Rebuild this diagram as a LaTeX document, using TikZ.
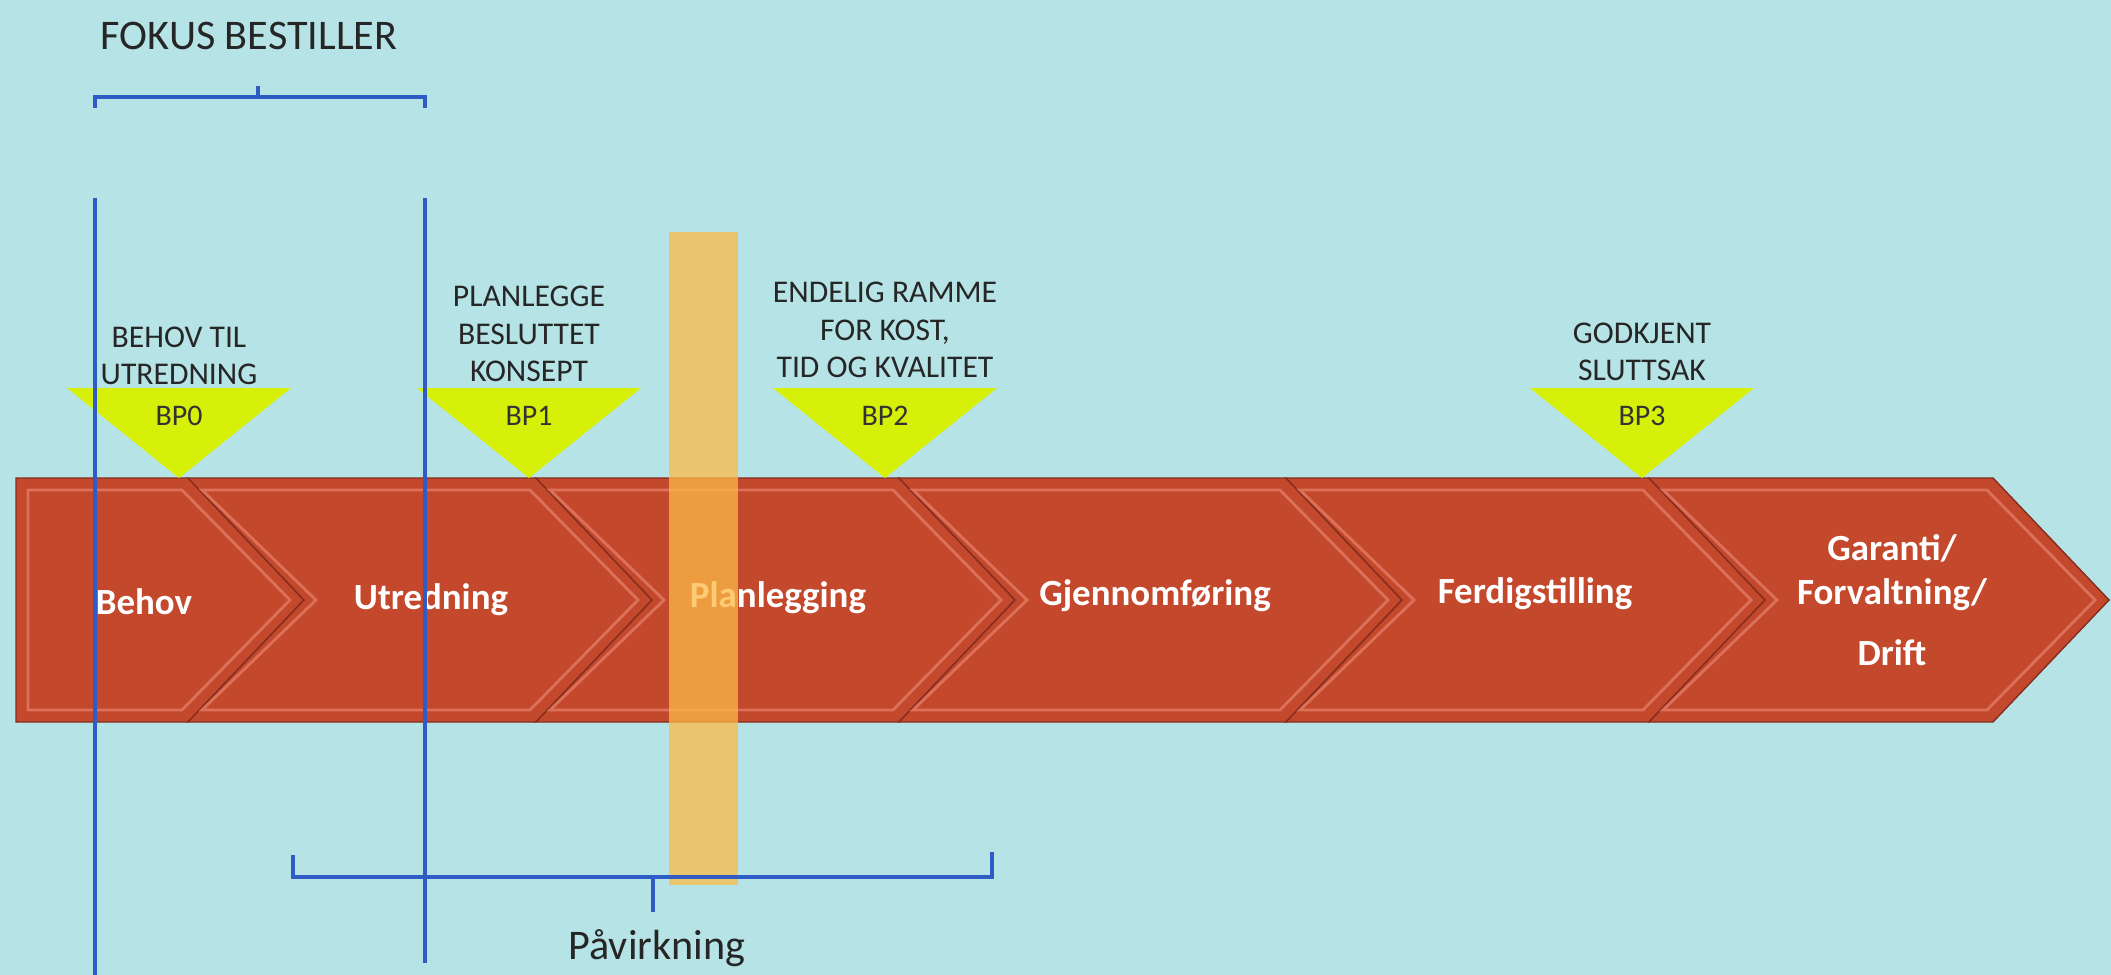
\documentclass[tikz,border=0pt]{standalone}
\usepackage{fontspec}
\setmainfont{Carlito}
\usetikzlibrary{positioning}
\definecolor{screen}{RGB}{182,228,230}
\definecolor{brick}{RGB}{196,72,44}
\definecolor{brickdark}{RGB}{132,46,32}
\definecolor{brickedge}{RGB}{220,112,88}
\definecolor{lime}{RGB}{214,240,10}
\definecolor{markblue}{RGB}{46,92,196}
\definecolor{amber}{RGB}{252,186,70}

\begin{document}
\begin{tikzpicture}[x=0.1mm,y=-0.1mm,
  gate/.style={align=center,text=black!85,font=\fontsize{9}{10.6}\selectfont},
  phase/.style={align=center,text=white,font=\bfseries\fontsize{10.5}{12.5}\selectfont},
  brace/.style={markblue,line width=0.9pt}]
\useasboundingbox[fill=screen] (0,0) rectangle (2111,975);
% fase-pilen
\draw[fill=brick,draw=brickdark] (16,478) -- (188,478) -- (304,600) -- (188,722) -- (16,722) -- cycle;
\draw[brickedge,line width=0.8pt] (28,490) -- (182,490) -- (290,600) -- (182,710) -- (28,710) -- cycle;
\foreach \a/\b in {188/536,536/899,899/1286,1286/1649,1649/1993} {
  \draw[fill=brick,draw=brickdark] (\a,478) -- (\b,478) -- (\b+116,600) -- (\b,722)
     -- (\a,722) -- (\a+116,600) -- cycle;
  \draw[brickedge,line width=0.8pt] (\a+14,490) -- (\b-6,490) -- (\b+102,600) -- (\b-6,710)
     -- (\a+14,710) -- (\a+128,600) -- cycle;
}
\node[phase] (behov)  at (144,602) {Behov};
\node[phase] (utred)  at (431,600) {Utredning};
\node[phase] (plan)   at (778,598) {Planlegging};
\node[phase] (gjen)   at (1155,596) {Gjennomføring};
\node[phase] (ferdig) at (1535,594) {Ferdigstilling};
\node[phase] (drift)  at (1892,600) {Garanti/\\Forvaltning/\\[5pt]Drift};
% beslutningspunkter
\foreach \x/\n in {179/0,529/1,885/2,1642/3} {
  \fill[lime] (\x-112,388) -- (\x+112,388) -- (\x,478) -- cycle;
  \node[text=black!80,font=\fontsize{8.5}{10}\selectfont] (bp\n) at (\x,416) {BP\n};
}
\node[gate] (g0) at (179,356) {BEHOV TIL\\UTREDNING};
\node[gate] (g1) at (529,334) {PLANLEGGE\\BESLUTTET\\KONSEPT};
\node[gate] (g2) at (885,330) {ENDELIG RAMME\\FOR KOST,\\TID OG KVALITET};
\node[gate] (g3) at (1642,352) {GODKJENT\\SLUTTSAK};
% markering
\fill[amber,opacity=0.75] (669,232) rectangle (738,885);
\draw[markblue,line width=0.9pt] (95,198) -- (95,975) (425,198) -- (425,963);
\draw[brace] (95,108) -- (95,97) -- (425,97) -- (425,108) (258,97) -- (258,86);
\draw[brace] (293,855) -- (293,877) -- (992,877) -- (992,852) (653,877) -- (653,912);
\node[text=black!85,font=\fontsize{12}{14}\selectfont] (fokus) at (249,36) {FOKUS BESTILLER};
\node[text=black!85,font=\fontsize{12}{14}\selectfont] (pavirk) at (657,948) {Påvirkning};
\end{tikzpicture}
\end{document}
